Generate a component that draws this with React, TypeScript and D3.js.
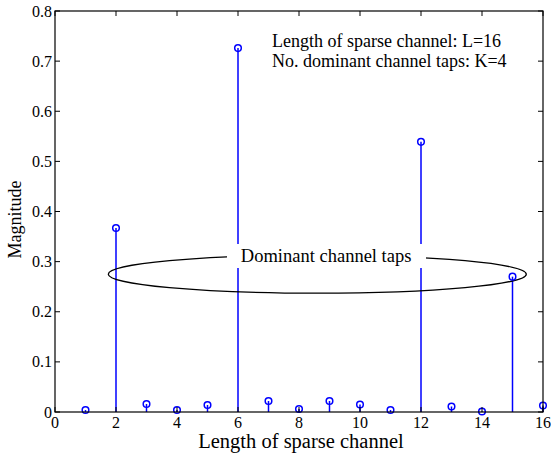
import * as d3 from "d3";

// channel tap index and magnitude
const taps = [1, 2, 3, 4, 5, 6, 7, 8, 9, 10, 11, 12, 13, 14, 15, 16];
const magnitude = [0.004, 0.367, 0.016, 0.004, 0.014, 0.726, 0.022, 0.006, 0.022, 0.015, 0.004, 0.539, 0.011, 0.001, 0.27, 0.013];
const xTicks = [0, 2, 4, 6, 8, 10, 12, 14, 16];
const yTicks = [0, 0.1, 0.2, 0.3, 0.4, 0.5, 0.6, 0.7, 0.8];
const infoLines = ["Length of sparse channel: L=16", "No. dominant channel taps: K=4"];
const calloutLabel = "Dominant channel taps";

const W = 551, H = 461;
const M = { l: 55, r: 8, t: 11, b: 49 };
const FONT = "'Liberation Serif', 'Times New Roman', serif";
const BLUE = "#0000FF";

export default function App() {
  const sx = d3.scaleLinear().domain([0, 16]).range([M.l, W - M.r]);
  const sy = d3.scaleLinear().domain([0, 0.8]).range([H - M.b, M.t]);
  const x0 = sx(0), x1 = sx(16), y0 = sy(0), y1 = sy(0.8);
  const tk = 5;
  const fmtY = (t: number) => (t === 0 ? "0" : d3.format(".1f")(t));

  return (
    <svg width={W} height={H} viewBox={`0 0 ${W} ${H}`}
      style={{ position: "absolute", left: 0, top: 0, background: "#fff", fontFamily: FONT }}>
      <rect x={0} y={0} width={W} height={H} fill="#fff" />

      {/* stems */}
      {taps.map((t, i) => (
        <line key={"s" + i} x1={sx(t)} x2={sx(t)} y1={y0} y2={sy(magnitude[i])} stroke={BLUE} strokeWidth={1.5} />
      ))}

      {/* callout ellipse */}
      <ellipse cx={sx(8.6)} cy={sy(0.275)} rx={209} ry={19} fill="none" stroke="#000" strokeWidth={1.3} />
      <rect x={227} y={244} width={199} height={24} fill="#fff" />
      <text x={sx(8.89)} y={262} textAnchor="middle" fontSize={18.5} fill="#000">{calloutLabel}</text>

      {/* markers */}
      {taps.map((t, i) => (
        <circle key={"m" + i} cx={sx(t)} cy={sy(magnitude[i])} r={3.3} fill="none" stroke={BLUE} strokeWidth={1.5} />
      ))}

      {/* axes box */}
      <rect x={x0} y={y1} width={x1 - x0} height={y0 - y1} fill="none" stroke="#000" strokeWidth={1.2} />
      {xTicks.map((t, i) => (
        <g key={"xt" + i}>
          <line x1={sx(t)} x2={sx(t)} y1={y0} y2={y0 - tk} stroke="#000" />
          <line x1={sx(t)} x2={sx(t)} y1={y1} y2={y1 + tk} stroke="#000" />
          <text x={sx(t)} y={y0 + 16} textAnchor="middle" fontSize={16}>{t}</text>
        </g>
      ))}
      {yTicks.map((t, i) => (
        <g key={"yt" + i}>
          <line x1={x0} x2={x0 + tk} y1={sy(t)} y2={sy(t)} stroke="#000" />
          <line x1={x1} x2={x1 - tk} y1={sy(t)} y2={sy(t)} stroke="#000" />
          <text x={x0 - 3} y={sy(t) + 5.5} textAnchor="end" fontSize={16}>{fmtY(t)}</text>
        </g>
      ))}

      {/* info text */}
      {infoLines.map((s, i) => (
        <text key={"i" + i} x={272} y={47 + i * 20} fontSize={18}>{s}</text>
      ))}

      {/* axis titles */}
      <text x={301} y={448} textAnchor="middle" fontSize={20.5}>Length of sparse channel</text>
      <text transform={`translate(21 ${(y0 + y1) / 2 + 8}) rotate(-90)`} textAnchor="middle" fontSize={18}>Magnitude</text>
    </svg>
  );
}
